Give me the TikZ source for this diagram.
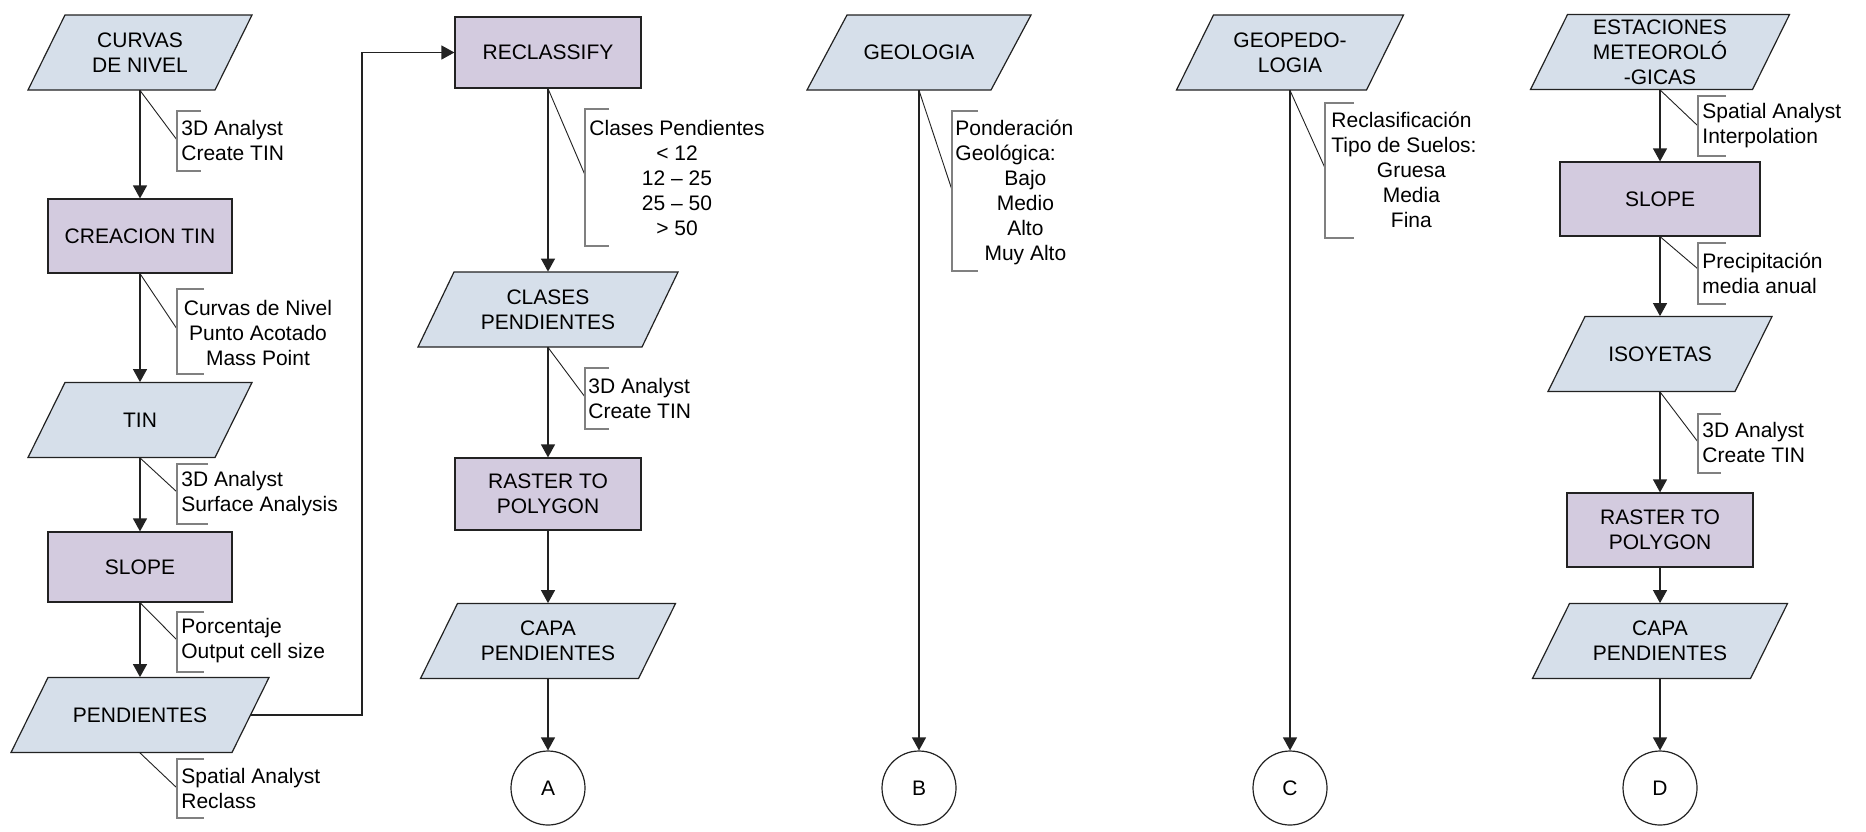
\documentclass[tikz,border=0pt]{standalone}
\usepackage{fontspec}
\setmainfont{Liberation Sans}
\usetikzlibrary{arrows.meta}

\definecolor{iofill}{HTML}{D6DFEA}
\definecolor{procfill}{HTML}{D3CBDF}
\definecolor{edge}{HTML}{222222}
\definecolor{notegray}{HTML}{808080}

\tikzset{
  txt/.style={font=\fontsize{10.5}{12.5}\selectfont, inner sep=0pt},
  proc/.style={txt, draw=edge, fill=procfill, line width=0.6pt, align=center},
  iolabel/.style={txt, align=center, minimum height=37.5pt},
  ioframe/.style={draw=edge, fill=iofill, line width=0.6pt},
  flow/.style={draw=edge, line width=0.6pt, -{Triangle[length=6.5pt,width=7pt]}},
  lead/.style={draw=edge, line width=0.45pt},
  bracket/.style={draw=notegray, line width=0.6pt},
  note/.style={txt, align=left, anchor=west},
  cnote/.style={txt, align=center},
  connector/.style={txt, circle, draw=edge, fill=white, line width=0.6pt, minimum size=37pt}
}

% data (parallelogram) box: name, centre x, centre y, edge width, slant, label
\newcommand{\dataset}[6]{%
  \filldraw[ioframe] ({#2-#4/2-#5/2},{#3+37.5}) -- ++(#4,0)
    -- ({#2+#4/2+#5/2},{#3-37.5}) -- ++(-#4,0) -- cycle;
  \node[iolabel, minimum width=#4*0.5pt] (#1) at (#2,#3) {#6};
}

% leader from a box to a side bracket: source, bracket x, join y, top y, bottom y, tick end x
\newcommand{\leader}[6]{%
  \coordinate (#1-join) at (#2,#3);
  \draw[lead] (#1.south) -- (#1-join);
  \draw[bracket] (#6,#4) -- (#2,#4) -- (#2,#5) -- (#6,#5);
}

\begin{document}
\begin{tikzpicture}[x=0.5pt, y=-0.5pt]
\fill[white] (0,0) rectangle (1866,831);
\useasboundingbox (0,0) rectangle (1866,831);

% ---------- column 1 ----------
\dataset{curvas}{140}{52.5}{187}{37}{CURVAS\\DE NIVEL}
\node[proc, minimum width=92pt, minimum height=37pt] (creacion) at (140,236) {CREACION TIN};
\dataset{tin}{140}{420}{187}{37}{TIN}
\node[proc, minimum width=92pt, minimum height=35pt] (slopeA) at (140,567) {SLOPE};
\dataset{pend}{140}{715}{221}{37}{PENDIENTES}

\draw[flow] (curvas.south) -- (creacion.north);
\draw[flow] (creacion.south) -- (tin.north);
\draw[flow] (tin.south) -- (slopeA.north);
\draw[flow] (slopeA.south) -- (pend.north);

\leader{curvas}{177}{140}{111}{171}{201}
\node[note] (n1) at (181,140.5) {3D Analyst\\Create TIN};
\leader{creacion}{177}{329}{289}{374}{204}
\node[cnote] (n2) at (258,332.5) {Curvas de Nivel\\Punto Acotado\\Mass Point};
\leader{tin}{177}{492}{464}{524}{208}
\node[note] (n3) at (181,493.5) {3D Analyst\\Surface Analysis};
\leader{slopeA}{177}{640}{612}{672}{204}
\node[note] (n4) at (181,641) {Porcentaje\\Output cell size};
\leader{pend}{177}{788}{759}{818}{204}
\node[note] (n5) at (181,788.5) {Spatial Analyst\\Reclass};

% ---------- column 2 ----------
\node[proc, minimum width=93pt, minimum height=35.5pt] (recl) at (548,52.5) {RECLASSIFY};
\dataset{clases}{548}{309.5}{224}{36}{CLASES\\PENDIENTES}
\node[proc, minimum width=93pt, minimum height=36pt] (rasterA) at (548,494) {RASTER TO\\POLYGON};
\dataset{capaA}{548}{641}{218}{37}{CAPA\\PENDIENTES}
\node[connector] (cA) at (548,788) {A};

\draw[flow] (pend.east) -- ++(111,0) |- (recl.west);
\draw[flow] (recl.south) -- (clases.north);
\draw[flow] (clases.south) -- (rasterA.north);
\draw[flow] (rasterA.south) -- (capaA.north);
\draw[flow] (capaA.south) -- (cA.north);

\leader{recl}{585}{175}{109}{246}{609}
\node[cnote] (n6) at (677,177.5) {Clases Pendientes\\< 12\\12 – 25\\25 – 50\\> 50};
\leader{clases}{585}{397}{368}{429}{609}
\node[note] (n7) at (588,398) {3D Analyst\\Create TIN};

% ---------- column 3 ----------
\dataset{geol}{919}{52.5}{184}{40}{GEOLOGIA}
\node[connector] (cB) at (919,788) {B};
\draw[flow] (geol.south) -- (cB.north);
\leader{geol}{952}{190}{111}{271}{978}
\node[note] (n8) at (955,192) {Ponderación\\Geológica:\\\makebox[70pt][c]{Bajo}\\\makebox[70pt][c]{Medio}\\\makebox[70pt][c]{Alto}\\\makebox[70pt][c]{Muy Alto}};

% ---------- column 4 ----------
\dataset{geoped}{1290}{52.5}{190}{37}{GEOPEDO-\\LOGIA}
\node[connector] (cC) at (1290,788) {C};
\draw[flow] (geoped.south) -- (cC.north);
\leader{geoped}{1325}{168}{103}{238}{1354}
\node[note] (n9) at (1331,169.5) {Reclasificación\\Tipo de Suelos:\\\makebox[80pt][c]{Gruesa}\\\makebox[80pt][c]{Media}\\\makebox[80pt][c]{Fina}};

% ---------- column 5 ----------
\dataset{est}{1660}{52}{222}{37}{ESTACIONES\\METEOROLÓ\\-GICAS}
\node[proc, minimum width=100pt, minimum height=37pt] (slopeB) at (1660,199) {SLOPE};
\dataset{iso}{1660}{354}{187}{37}{ISOYETAS}
\node[proc, minimum width=93pt, minimum height=37pt] (rasterB) at (1660,530) {RASTER TO\\POLYGON};
\dataset{capaB}{1660}{641}{218}{37}{CAPA\\PENDIENTES}
\node[connector] (cD) at (1660,788) {D};

\draw[flow] (est.south) -- (slopeB.north);
\draw[flow] (slopeB.south) -- (iso.north);
\draw[flow] (iso.south) -- (rasterB.north);
\draw[flow] (rasterB.south) -- (capaB.north);
\draw[flow] (capaB.south) -- (cD.north);

\leader{est}{1698}{126}{96}{156}{1726}
\node[note] (n10) at (1702,126) {Spatial Analyst\\Interpolation};
\leader{slopeB}{1698}{269}{243}{304}{1726}
\node[note] (n11) at (1702,273) {Precipitación\\media anual};
\leader{iso}{1698}{442}{414}{473}{1721}
\node[note] (n12) at (1702,442) {3D Analyst\\Create TIN};
\end{tikzpicture}
\end{document}
